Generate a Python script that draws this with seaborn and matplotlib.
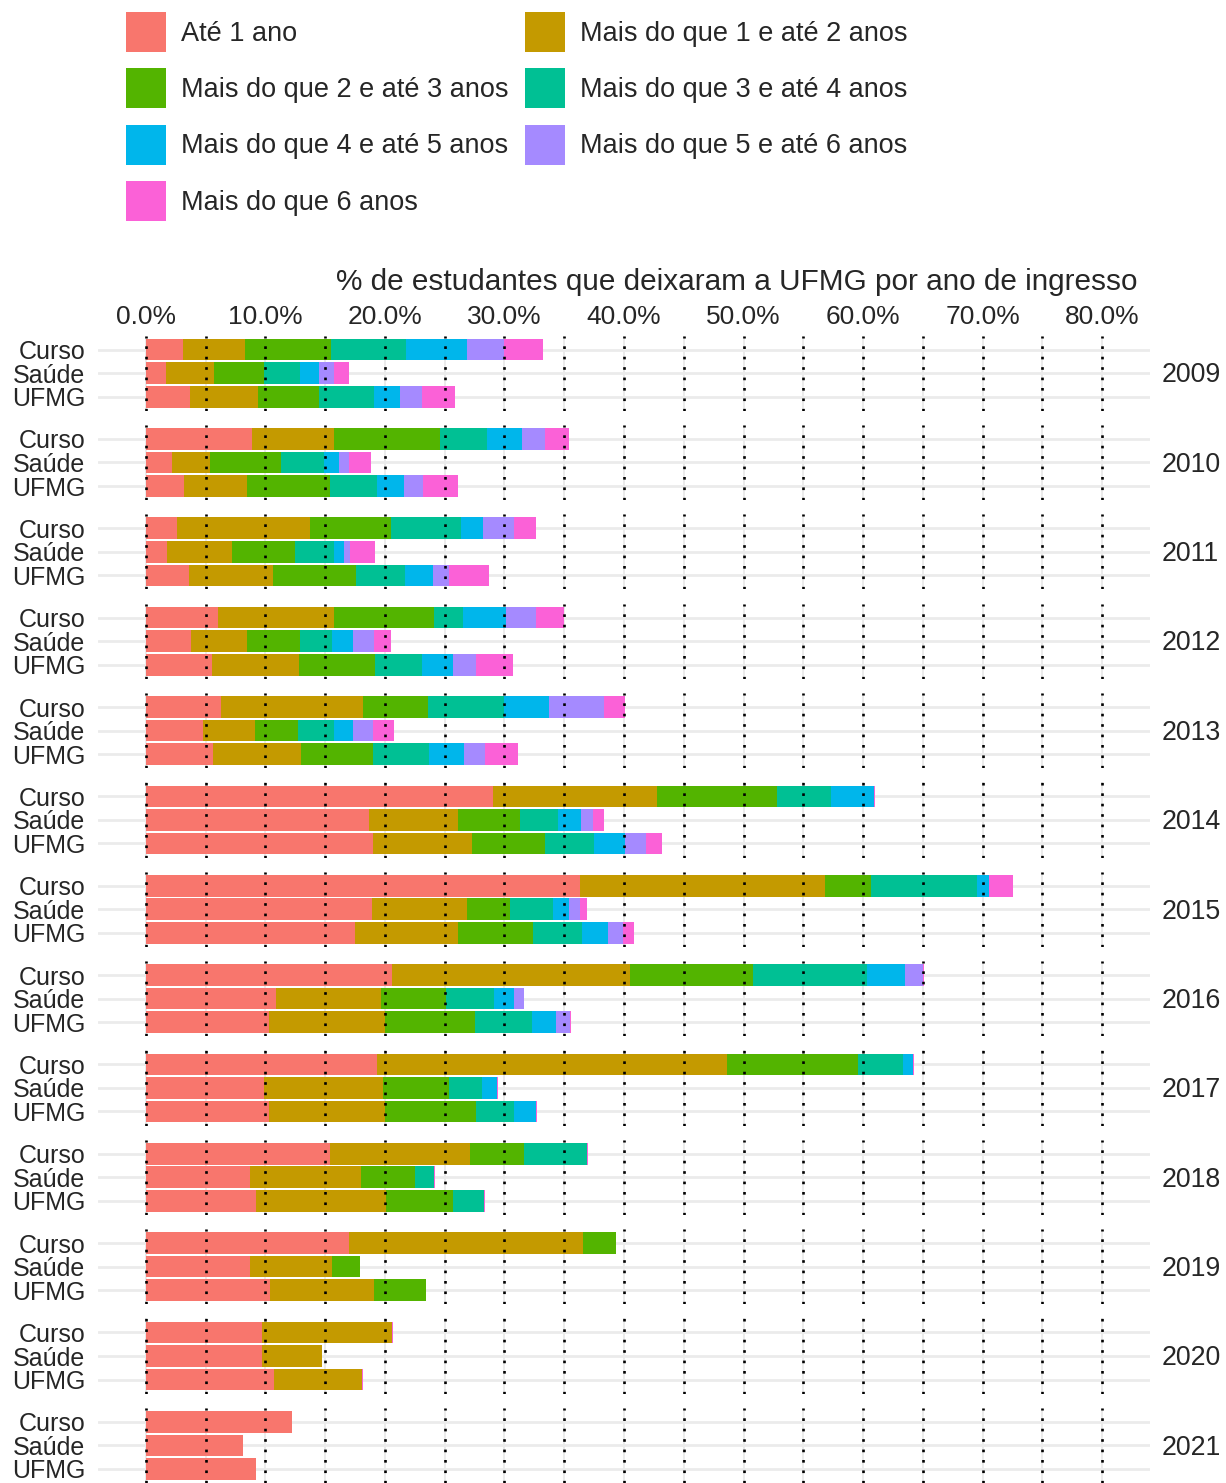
import numpy as np
import pandas as pd
import matplotlib
matplotlib.use('Agg')  # sem display
import matplotlib.pyplot as plt
from matplotlib.patches import Patch
import seaborn as sns

# Anos de ingresso (um painel por ano) e grupos dentro de cada painel
anos = [2009, 2010, 2011, 2012, 2013, 2014, 2015, 2016, 2017, 2018, 2019, 2020, 2021]
grupos = ['Curso', 'Saúde', 'UFMG']

faixas = ['Até 1 ano', 'Mais do que 1 e até 2 anos', 'Mais do que 2 e até 3 anos',
          'Mais do que 3 e até 4 anos', 'Mais do que 4 e até 5 anos',
          'Mais do que 5 e até 6 anos', 'Mais do que 6 anos']
cores = ['#F8766D', '#C49A00', '#53B400', '#00C094', '#00B6EB', '#A58AFF', '#FB61D7']

# % de estudantes por faixa de tempo; ordem: ano a ano, Curso / Saúde / UFMG
ate_1 = [3.1, 1.7, 3.7, 8.9, 2.2, 3.2, 2.6, 1.8, 3.6, 6.0, 3.8, 5.5, 6.3, 4.8, 5.6,
         29.0, 18.7, 19.0, 36.3, 18.9, 17.5, 20.6, 10.9, 10.3, 19.3, 9.9, 10.3,
         15.4, 8.7, 9.2, 17.0, 8.7, 10.4, 9.7, 9.7, 10.7, 12.2, 8.1, 9.2]
de_1_a_2 = [5.2, 4.0, 5.7, 6.8, 3.2, 5.3, 11.1, 5.4, 7.0, 9.7, 4.7, 7.3, 11.9, 4.3, 7.4,
            13.8, 7.4, 8.3, 20.5, 8.0, 8.6, 19.9, 8.8, 9.7, 29.3, 9.9, 9.7,
            11.7, 9.3, 10.9, 19.6, 6.9, 8.7, 10.9, 5.0, 7.4, 0.0, 0.0, 0.0]
de_2_a_3 = [7.2, 4.2, 5.1, 8.9, 5.9, 6.9, 6.8, 5.3, 7.0, 8.4, 4.4, 6.4, 5.4, 3.6, 6.0,
            10.0, 5.2, 6.1, 3.9, 3.6, 6.3, 10.3, 5.4, 7.5, 11.0, 5.6, 7.6,
            4.5, 4.5, 5.6, 2.7, 2.3, 4.3, 0.0, 0.0, 0.0, 0.0, 0.0, 0.0]
de_3_a_4 = [6.3, 3.0, 4.6, 3.9, 3.6, 3.9, 5.9, 3.2, 4.1, 2.4, 2.7, 3.9, 6.4, 3.0, 4.7,
            4.5, 3.2, 4.1, 8.8, 3.6, 4.1, 9.5, 4.0, 4.8, 3.7, 2.7, 3.2,
            5.3, 1.6, 2.6, 0.0, 0.0, 0.0, 0.0, 0.0, 0.0, 0.0, 0.0, 0.0]
de_4_a_5 = [5.1, 1.6, 2.2, 3.0, 1.3, 2.3, 1.8, 0.9, 2.3, 3.6, 1.7, 2.6, 3.7, 1.6, 2.9,
            3.6, 1.9, 2.6, 1.0, 1.3, 2.2, 3.2, 1.7, 2.0, 0.9, 1.3, 1.8,
            0.0, 0.0, 0.0, 0.0, 0.0, 0.0, 0.0, 0.0, 0.0, 0.0, 0.0, 0.0]
de_5_a_6 = [3.1, 1.2, 1.8, 1.9, 0.8, 1.6, 2.6, 0.5, 1.4, 2.5, 1.8, 1.9, 4.6, 1.7, 1.8,
            0.0, 1.0, 1.7, 0.0, 0.9, 1.2, 1.5, 0.8, 1.2, 0.0, 0.0, 0.0,
            0.0, 0.0, 0.0, 0.0, 0.0, 0.0, 0.0, 0.0, 0.0, 0.0, 0.0, 0.0]
mais_de_6 = [3.2, 1.3, 2.8, 2.0, 1.8, 2.9, 1.8, 2.1, 3.3, 2.4, 1.4, 3.1, 1.8, 1.8, 2.7,
             0.1, 0.9, 1.4, 2.0, 0.6, 0.9, 0.1, 0.0, 0.1, 0.1, 0.1, 0.1,
             0.05, 0.05, 0.05, 0.05, 0.05, 0.05, 0.05, 0.05, 0.05, 0.05, 0.05, 0.05]

df = pd.DataFrame({
    'ano': np.repeat(anos, len(grupos)),
    'grupo': grupos * len(anos),
    faixas[0]: ate_1, faixas[1]: de_1_a_2, faixas[2]: de_2_a_3, faixas[3]: de_3_a_4,
    faixas[4]: de_4_a_5, faixas[5]: de_5_a_6, faixas[6]: mais_de_6,
})

sns.set_style('white')
plt.rcParams['font.family'] = ['Liberation Sans', 'DejaVu Sans']

W, H = 1226, 1483
fig = plt.figure(figsize=(W / 100, H / 100), dpi=100)
gs = fig.add_gridspec(len(anos), 1, left=98 / W, right=1150 / W,
                      top=1 - 335.5 / H, bottom=0.0, hspace=0.1866)

for i, ano in enumerate(anos):
    ax = fig.add_subplot(gs[i])
    sub = df[df['ano'] == ano].reset_index(drop=True)
    acum = sub[faixas].cumsum(axis=1)

    # grade clara ao fundo
    for v in range(0, 85, 5):
        ax.axvline(v, color='#EBEBEB', lw=1.4, zorder=0)
    for k in range(len(grupos)):
        ax.axhline(k, color='#EBEBEB', lw=2.0, zorder=0)

    # barras empilhadas: desenha do total acumulado maior para o menor
    for j in reversed(range(len(faixas))):
        tmp = pd.DataFrame({'grupo': sub['grupo'], 'valor': acum[faixas[j]]})
        sns.barplot(data=tmp, x='valor', y='grupo', order=grupos, orient='h',
                    color=cores[j], saturation=1, width=0.92, linewidth=0,
                    errorbar=None, ax=ax, zorder=2)

    # linhas pontilhadas a cada 5%
    for v in range(0, 85, 5):
        ax.axvline(v, color='black', lw=1.9, linestyle=(0, (1, 2.95)),
                   dash_capstyle='butt', zorder=5)

    ax.set_xlim(-4, 84)
    ax.set_ylim(2.6, -0.6)
    ax.set_xlabel('')
    ax.set_ylabel('')
    for s in ax.spines.values():
        s.set_visible(False)
    ax.set_xticks(range(0, 81, 10))
    ax.tick_params(axis='y', length=0, pad=9, labelsize=18)
    if i == 0:
        ax.xaxis.tick_top()
        ax.set_xticklabels([f'{v:.1f}%' for v in range(0, 81, 10)])
        ax.tick_params(axis='x', length=0, pad=5, labelsize=19)
    else:
        ax.tick_params(axis='x', length=0, labelbottom=False, labeltop=False)

    ax.text(1 + 12 / 1052, 0.47, str(ano), transform=ax.transAxes,
            ha='left', va='center', fontsize=19.3)

fig.text(1138 / W, 1 - 282 / H, '% de estudantes que deixaram a UFMG por ano de ingresso',
         ha='right', va='center', fontsize=21.4)

handles = [Patch(facecolor=c, edgecolor='none', label=f) for f, c in zip(faixas, cores)]
ordem = [0, 2, 4, 6, 1, 3, 5]
fig.legend([handles[k] for k in ordem], [faixas[k] for k in ordem],
           loc='upper left', bbox_to_anchor=(126 / W, 1 - 12 / H), ncol=2,
           frameon=False, fontsize=19.5, handlelength=1.48, handleheight=1.9,
           labelspacing=0.6, handletextpad=0.56, columnspacing=0.6,
           borderpad=0, borderaxespad=0)

fig.savefig('out.png', dpi=100)
plt.close(fig)
